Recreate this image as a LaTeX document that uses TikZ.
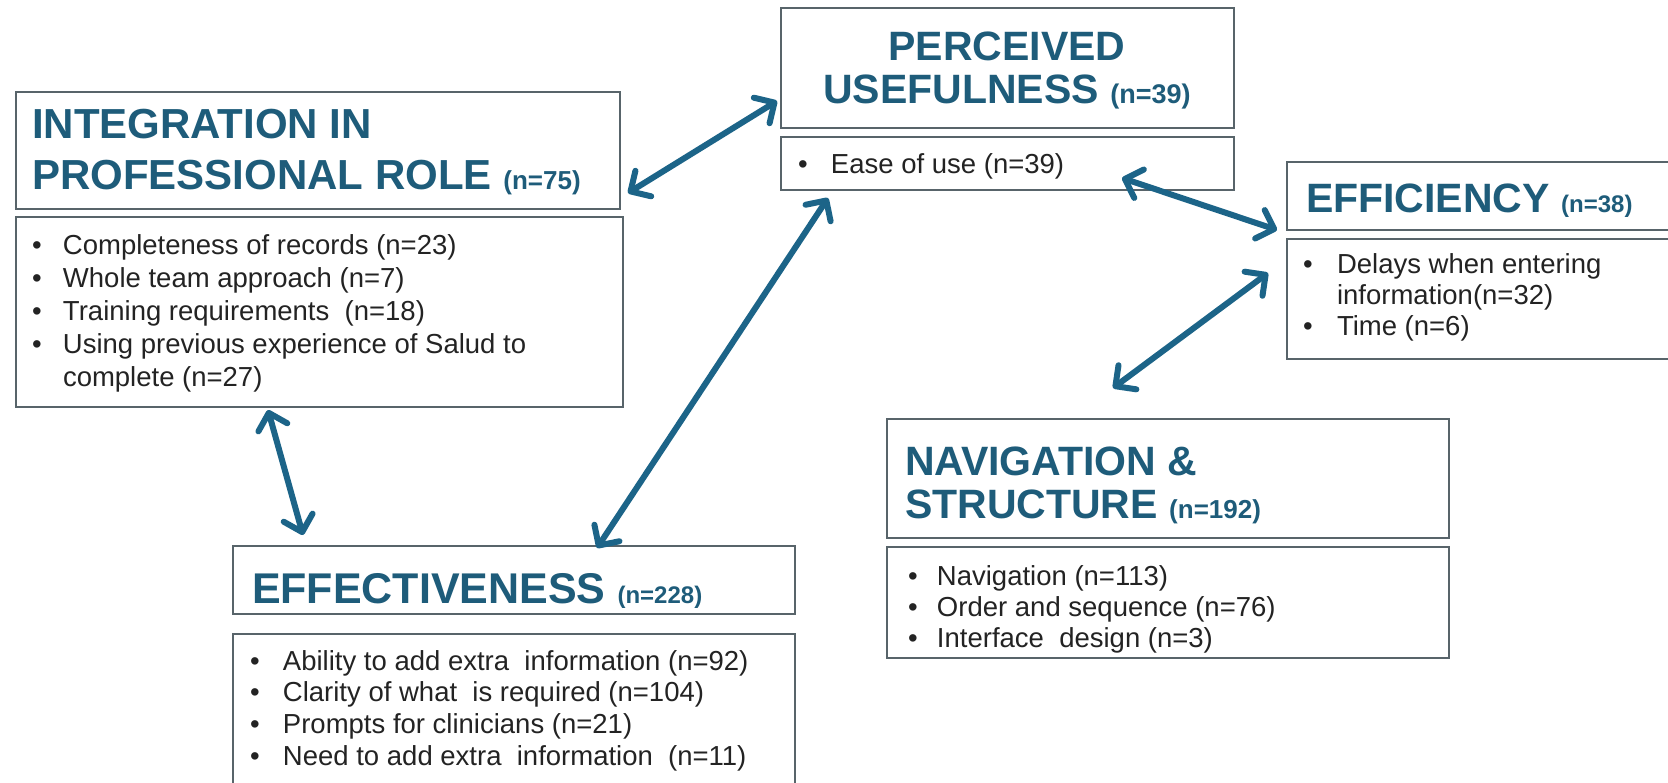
\documentclass[tikz,border=0pt]{standalone}
\usepackage{fontspec}
\setmainfont{Liberation Sans}
\usetikzlibrary{arrows.meta}

\definecolor{titleblue}{RGB}{30,92,122}
\definecolor{arrowblue}{RGB}{28,100,136}
\definecolor{framegray}{RGB}{88,100,106}
\definecolor{bodytext}{RGB}{35,35,35}

% heading text: font size, line pitch, column spec
\newcommand{\headtext}[3]{\fontsize{#1}{#2}\selectfont\bfseries\color{titleblue}%
  \begin{tabular}[t]{@{}#3@{}}}
\newcommand{\cnt}[2]{{\fontsize{#1}{#1}\selectfont #2}}
% bullet list text: line pitch
\newcommand{\listtext}[1]{\fontsize{27.5}{#1}\selectfont\color{bodytext}%
  \begin{tabular}[t]{@{}l@{}}}
\newcommand{\itm}[2]{\makebox[#1][l]{•}#2}

\tikzset{
  frame/.style={draw=framegray, line width=1.3pt, fill=white, inner sep=0pt,
    outer sep=0pt, anchor=north west},
  txt/.style={inner sep=0pt, outer sep=0pt, anchor=base west},
  conn/.style={draw=arrowblue, line width=6pt,
    >={Straight Barb[length=15pt,width=30pt,round]}, <->}
}

\begin{document}
\begin{tikzpicture}[x=1pt, y=-1pt]
\useasboundingbox (0,0) rectangle (1668,782);
\clip (0,0) rectangle (1668,782);
\fill[white] (0,0) rectangle (1668,782);

% ---- Integration in professional role
\node[frame, minimum width=604pt, minimum height=117pt] (intT) at (16,92) {};
\node[txt] (intH) at (32,138) {\headtext{42}{51}{l}INTEGRATION IN\\
  PROFESSIONAL ROLE \cnt{26}{(n=75)}\end{tabular}};
\node[frame, minimum width=607pt, minimum height=190pt] (intB) at (16,217) {};
\node[txt] (intL) at (32,254) {\listtext{33}%
  \itm{31pt}{Completeness of records (n=23)}\\
  \itm{31pt}{Whole team approach (n=7)}\\
  \itm{31pt}{Training requirements\ \ (n=18)}\\
  \itm{31pt}{Using previous experience of Salud to}\\
  \hspace*{31pt}complete (n=27)\end{tabular}};

% ---- Perceived usefulness
\node[frame, minimum width=453pt, minimum height=120pt] (perT) at (781,8) {};
\node[txt, anchor=base] (perH) at (1007,60) {\headtext{41}{43}{c}PERCEIVED\\
  USEFULNESS \cnt{27}{(n=39)}\end{tabular}};
\node[frame, minimum width=453pt, minimum height=53pt] (perB) at (781,137) {};
\node[txt] (perL) at (798,173) {\listtext{31}%
  \itm{33pt}{Ease of use (n=39)}\end{tabular}};

% ---- Efficiency
\node[frame, minimum width=420pt, minimum height=68pt] (effiT) at (1287,162) {};
\node[txt] (effiH) at (1306,212) {\headtext{41}{43}{l}EFFICIENCY \cnt{24}{(n=38)}\end{tabular}};
\node[frame, minimum width=420pt, minimum height=120pt] (effiB) at (1287,239) {};
\node[txt] (effiL) at (1303,273) {\listtext{31}%
  \itm{34pt}{Delays when\ entering}\\
  \hspace*{34pt}information(n=32)\\
  \itm{34pt}{Time (n=6)}\end{tabular}};

% ---- Navigation & structure
\node[frame, minimum width=562pt, minimum height=119pt] (navT) at (887,419) {};
\node[txt] (navH) at (905,475) {\headtext{41}{43}{l}NAVIGATION \&\\
  STRUCTURE \cnt{26}{(n=192)}\end{tabular}};
\node[frame, minimum width=562pt, minimum height=111pt] (navB) at (887,547) {};
\node[txt] (navL) at (908,585) {\listtext{31}%
  \itm{29pt}{Navigation (n=113)}\\
  \itm{29pt}{Order and sequence (n=76)}\\
  \itm{29pt}{Interface\ \ design (n=3)}\end{tabular}};

% ---- Effectiveness
\node[frame, minimum width=562pt, minimum height=68pt] (effeT) at (233,546) {};
\node[txt] (effeH) at (252,603) {\headtext{43}{43}{l}EFFECTIVENESS \cnt{24}{(n=228)}\end{tabular}};
\node[frame, minimum width=562pt, minimum height=200pt] (effeB) at (233,634) {};
\node[txt] (effeL) at (250,670) {\listtext{31.7}%
  \itm{33pt}{Ability to add extra\ \ information (n=92)}\\
  \itm{33pt}{Clarity of what\ \ is required (n=104)}\\
  \itm{33pt}{Prompts for clinicians (n=21)}\\
  \itm{33pt}{Need to add extra\ \ information\ \ (n=11)}\end{tabular}};

% ---- connector end points
\coordinate (ipA) at (628,193);
\coordinate (ipB) at (777,101);
\coordinate (peA) at (828,198);
\coordinate (peB) at (597,548);
\coordinate (pfA) at (1122,178);
\coordinate (pfB) at (1277,230);
\coordinate (fnA) at (1268,273);
\coordinate (fnB) at (1113,388);
\coordinate (ieA) at (268,410);
\coordinate (ieB) at (303,535);

\draw[conn] (ipA) -- (ipB);
\draw[conn] (peA) -- (peB);
\draw[conn] (pfA) -- (pfB);
\draw[conn] (fnA) -- (fnB);
\draw[conn] (ieA) -- (ieB);
\end{tikzpicture}
\end{document}
